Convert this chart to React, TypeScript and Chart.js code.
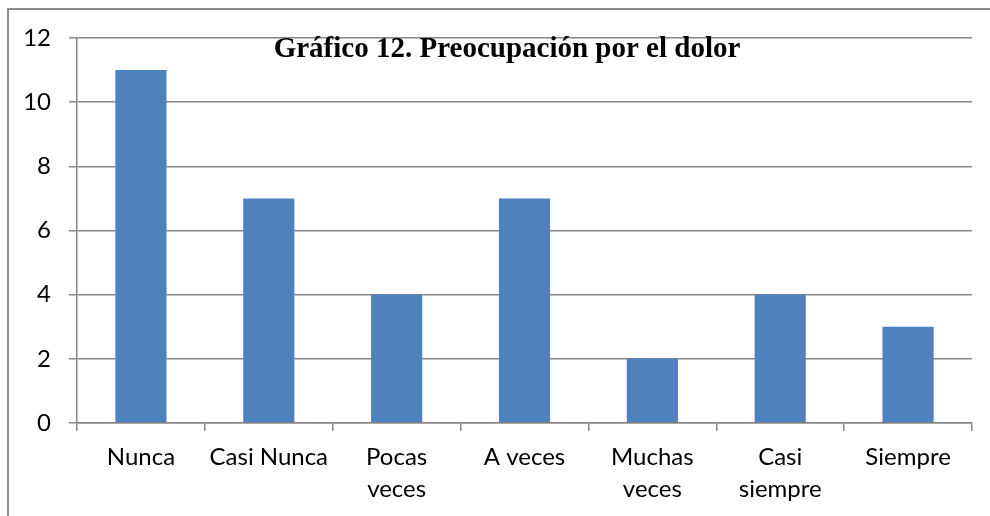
import React, { useEffect, useRef } from "react";
import { Chart, registerables } from "chart.js";

Chart.register(...registerables);

const categories: (string | string[])[] = [
  "Nunca",
  "Casi Nunca",
  ["Pocas", "veces"],
  "A veces",
  ["Muchas", "veces"],
  ["Casi", "siempre"],
  "Siempre",
];
const values: number[] = [11, 7, 4, 7, 2, 4, 3];
const titleText = "Gráfico 12. Preocupación por el dolor";
const yMin = 0;
const yMax = 12;
const yStep = 2;

const GRID = "#878787";
const BAR = "#4F81BD";

const titlePlugin = {
  id: "innerTitle",
  afterDraw(chart: any) {
    const ctx = chart.ctx;
    ctx.save();
    ctx.font = "bold 29px 'Liberation Serif', 'Times New Roman', serif";
    ctx.fillStyle = "#000";
    ctx.textAlign = "center";
    ctx.textBaseline = "alphabetic";
    ctx.fillText(titleText, 507, 57);
    ctx.restore();
  },
};

export default function App() {
  const ref = useRef<HTMLCanvasElement | null>(null);
  useEffect(() => {
    if (!ref.current) return;
    const chart = new Chart(ref.current, {
      type: "bar",
      data: {
        labels: categories,
        datasets: [
          {
            data: values,
            backgroundColor: BAR,
            borderWidth: 0,
            categoryPercentage: 1,
            barPercentage: 0.4,
          },
        ],
      },
      options: {
        animation: false,
        responsive: false,
        maintainAspectRatio: false,
        layout: { padding: { top: 38, right: 18, left: 0, bottom: 0 } },
        plugins: {
          legend: { display: false },
          title: { display: false },
          tooltip: { enabled: false },
        },
        scales: {
          x: {
            grid: {
              display: true,
              drawOnChartArea: false,
              drawTicks: true,
              tickLength: 8,
              color: GRID,
              lineWidth: 1.5,
              offset: true,
            },
            border: { display: true, color: GRID, width: 1.5 },
            ticks: {
              color: "#000",
              font: { family: "Lato", size: 24, lineHeight: 1.3 },
              padding: 11,
              maxRotation: 0,
              autoSkip: false,
            },
            afterFit(scale: any) {
              scale.height = 516 - 423;
            },
          },
          y: {
            min: yMin,
            max: yMax,
            grid: {
              color: GRID,
              lineWidth: 1.5,
              drawTicks: true,
              tickLength: 8,
            },
            border: { display: true, color: GRID, width: 1.5 },
            ticks: {
              stepSize: yStep,
              color: "#000",
              font: { family: "Lato", size: 24 },
              padding: 18,
            },
            afterFit(scale: any) {
              scale.width = 77;
            },
          },
        },
      },
      plugins: [titlePlugin],
    });
    return () => chart.destroy();
  }, []);

  return (
    <div style={{ position: "fixed", left: 0, top: 0, width: 990, height: 516, background: "#fff", overflow: "hidden" }}>
      <canvas ref={ref} width={990} height={516} style={{ position: "absolute", left: 0, top: 0 }} />
      <div
        style={{
          position: "absolute",
          left: 7,
          top: 8,
          width: 1100,
          height: 600,
          borderTop: "2px solid #8c8c8c",
          borderLeft: "2px solid #8c8c8c",
          pointerEvents: "none",
        }}
      />
    </div>
  );
}
